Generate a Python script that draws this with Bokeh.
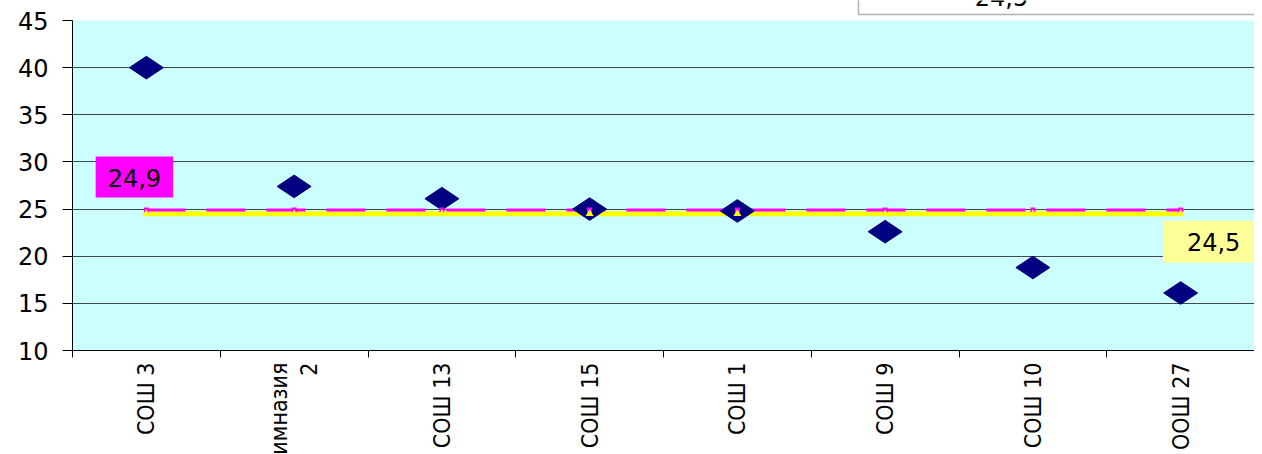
import math
from bokeh.plotting import figure
from bokeh.models import Range1d, FixedTicker, Label, BoxAnnotation
from bokeh.embed import file_html
from bokeh.resources import INLINE

# ---- data ----
schools = ["СОШ 3", "Гимназия\n2", "СОШ 13", "СОШ 15", "СОШ 1", "СОШ 9", "СОШ 10", "ООШ 27"]
scores = [40.0, 27.4, 26.1, 25.0, 24.8, 22.6, 18.8, 16.1]
district_avg = [24.9] * len(schools)
region_avg = [24.5] * len(schools)
y_ticks = [10, 15, 20, 25, 30, 35, 40, 45]
district_label = "24,9"
region_label = "24,5"

xs = [i + 0.5 for i in range(len(schools))]
y_lo, y_hi = y_ticks[0], y_ticks[-1]
frame_h = 350            # plot area 330 px for 10..45 plus 20 px headroom for the legend box
y_top = y_hi + 20 * (y_hi - y_lo) / 330

p = figure(
    frame_width=1182, frame_height=frame_h,
    x_range=Range1d(0, len(schools)), y_range=Range1d(y_lo, y_top),
    output_backend="svg", toolbar_location=None,
    min_border_left=72, min_border_right=0, min_border_top=0, min_border_bottom=0,
    background_fill_color="white", border_fill_color="white",
    outline_line_color=None,
)

# cyan plot area
p.add_layout(BoxAnnotation(left=0, right=len(schools), bottom=y_lo, top=y_hi,
                           fill_color="#CCFFFF", fill_alpha=1, line_color=None,
                           level="image"))

# y axis
p.yaxis.ticker = FixedTicker(ticks=y_ticks)
p.yaxis.bounds = (y_lo, y_hi)
p.yaxis.major_label_text_font = "DejaVu Sans"
p.yaxis.major_label_text_font_size = "24px"
p.yaxis.major_label_text_color = "black"
p.yaxis.major_tick_out = 10
p.yaxis.major_tick_in = 0
p.yaxis.minor_tick_line_color = None
p.yaxis.major_label_standoff = 14
p.yaxis.axis_line_color = "black"
p.yaxis.major_tick_line_color = "black"

# x axis
p.xaxis.ticker = FixedTicker(ticks=xs, minor_ticks=list(range(len(schools) + 1)))
p.xaxis.major_label_overrides = {x: s for x, s in zip(xs, schools)}
p.xaxis.major_label_orientation = math.pi / 2
p.xaxis.major_label_text_font = "DejaVu Sans Condensed"
p.xaxis.major_label_text_font_size = "23px"
p.xaxis.major_label_text_color = "black"
p.xaxis.major_label_text_line_height = 1.15
p.xaxis.major_tick_line_color = None
p.xaxis.minor_tick_line_color = "black"
p.xaxis.minor_tick_out = 7
p.xaxis.minor_tick_in = 0
p.xaxis.major_label_standoff = 5
p.xaxis.axis_line_color = "black"

p.xgrid.grid_line_color = None
p.ygrid.ticker = FixedTicker(ticks=y_ticks[:-1])
p.ygrid.grid_line_color = "#404848"
p.ygrid.grid_line_width = 1

# average lines
p.line(xs, region_avg, line_color="#FFFF00", line_width=5)
p.line(xs, district_avg, line_color="#FF00FF", line_width=3, line_dash="39 21")

# school points
p.scatter(xs, scores, marker="diamond", size=34, angle=math.pi / 2,
          fill_color="#000080", line_color="#000080")

# line markers
p.scatter(xs, district_avg, marker="square", size=5, fill_color="#FF00FF", line_color=None)
p.scatter(xs, region_avg, marker="triangle", size=8, fill_color="#FFFF00", line_color=None)

# data labels
p.add_layout(Label(x=xs[0], y=district_avg[0], x_offset=-12, y_offset=33,
                   text=district_label, text_align="center", text_baseline="middle",
                   text_font="DejaVu Sans", text_font_size="24px", text_color="black",
                   background_fill_color="#FF00FF",
                   padding=dict(left=12, right=12, top=12, bottom=11)))
p.add_layout(Label(x=xs[-1], y=region_avg[-1], x_offset=28, y_offset=-28,
                   text=region_label, text_align="center", text_baseline="middle",
                   text_font="DejaVu Sans", text_font_size="24px", text_color="black",
                   background_fill_color="#FFFF99",
                   padding=dict(left=24, right=14, top=12, bottom=12)))

# cut-off legend box at the top right
px_per_unit = 330 / (y_hi - y_lo)
p.add_layout(BoxAnnotation(left=(858 - 72) / 147.75, right=len(schools) + 1,
                           bottom=y_hi + 6 / px_per_unit, top=y_top + 5,
                           fill_color="white", fill_alpha=1,
                           line_color="black", line_width=1.5))
p.add_layout(Label(x=(1001 - 72) / 147.75, y=y_hi + 15 / px_per_unit,
                   text=region_label, text_align="center", text_baseline="bottom",
                   text_font="DejaVu Sans", text_font_size="24px", text_color="black"))

open("out.html", "w").write(file_html(p, INLINE))
